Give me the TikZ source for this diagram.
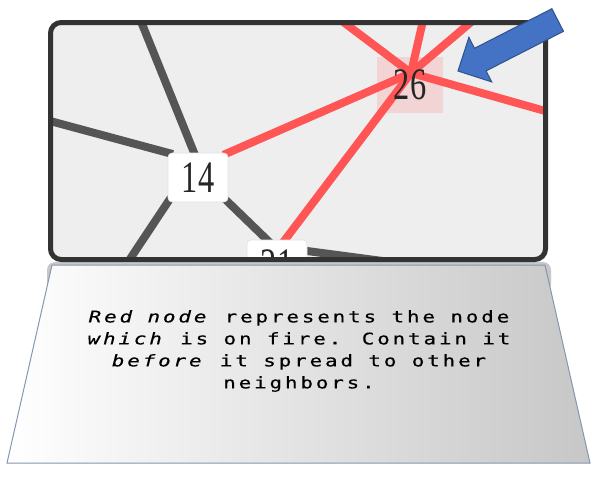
\documentclass[tikz,border=0pt]{standalone}
\usepackage{fontspec}
\usepackage{graphicx}
\usepackage{xcolor}
\usepackage{tikz}
\newfontfamily\numfont{Liberation Serif}
\newfontfamily\notefont[LetterSpace=14,FakeBold=0.4]{DejaVu Sans Mono}
\definecolor{firered}{RGB}{255,85,85}
\definecolor{edgegray}{RGB}{85,85,85}
\definecolor{framegray}{RGB}{51,51,51}
\definecolor{canvasgray}{RGB}{238,238,238}
\definecolor{firepink}{RGB}{242,212,212}
\definecolor{arrowblue}{RGB}{68,114,196}
\definecolor{arrowedge}{RGB}{47,82,143}
\definecolor{panelline}{RGB}{132,151,176}
\newcommand{\nodenum}[1]{\scalebox{0.72}[1]{\numfont\fontsize{33.75pt}{33.75pt}\selectfont #1}}
\pgfdeclarelayer{background}
\pgfdeclarelayer{edgelayer}
\pgfsetlayers{background,edgelayer,main}
\tikzset{
  nodebox/.style={draw=black!12, fill=white, rounded corners=3pt, inner sep=0pt,
    minimum width=45pt, minimum height=36.75pt, text=black!85},
  firebox/.style={inner sep=0pt, minimum width=49.5pt, minimum height=41.25pt, text=black!85},
  fireedge/.style={draw=firered, line width=6pt, shorten <=-4pt, shorten >=-4pt},
  coldedge/.style={draw=edgegray, line width=6pt, shorten <=-4pt, shorten >=-4pt}
}

\begin{document}
\begin{tikzpicture}[x=0.75pt, y=-0.75pt]
  \useasboundingbox (0,0) rectangle (604,480);

  % Nodes of the graph view
  \begin{scope}
    \clip[rounded corners=8pt] (50.5,22.5) rectangle (545.5,259.5);
    \node[firebox] (n26) at (410,85) {\nodenum{26}};
    \node[nodebox] (n14) at (198,177.5) {\nodenum{14}};
    \node[nodebox] (n21) at (277,264.5) {\nodenum{21}};
  \end{scope}
  \coordinate (hub) at (411,73);

  % Ends running out of the view
  \coordinate (f1) at (330,12);
  \coordinate (f2) at (425,12);
  \coordinate (f3) at (483,12);
  \coordinate (f4) at (570,118);
  \coordinate (c1) at (138,14);
  \coordinate (c2) at (40,118.3);
  \coordinate (c3) at (118,277);
  \coordinate (c4) at (420,266);

  % Note panel, canvas and fire box
  \begin{pgfonlayer}{background}
    \fill[black!22, rounded corners=6pt] (47,262) rectangle (551,292);
    \shadedraw[left color=white, right color=black!22, draw=panelline, line width=0.75pt]
      (52,265) -- (545,265) -- (590,463) -- (7,463) -- cycle;
    \fill[canvasgray, rounded corners=8pt] (50.5,22.5) rectangle (545.5,259.5);
    \fill[firepink] (n26.south west) rectangle (n26.north east);
  \end{pgfonlayer}

  % Edges
  \begin{pgfonlayer}{edgelayer}
    \clip[rounded corners=8pt] (50.5,22.5) rectangle (545.5,259.5);
    % gray edges
    \draw[coldedge] (c1) -- (n14.99);
    \draw[coldedge] (c2) -- (n14.north west);
    \draw[coldedge] (c3) -- (n14.south west);
    \draw[coldedge] (n14.south east) -- (n21.112);
    \draw[coldedge] (n21.24) -- (c4);
    % red edges (on fire)
    \draw[fireedge] (hub) -- (f1);
    \draw[fireedge] (hub) -- (f2);
    \draw[fireedge] (hub) -- (f3);
    \draw[fireedge] (hub) -- (f4);
    \draw[fireedge] (hub) -- (n14.north east);
    \draw[fireedge] (hub) -- (n21.72);
  \end{pgfonlayer}

  % Frame
  \draw[framegray, line width=3.75pt, rounded corners=8pt] (50.5,22.5) rectangle (545.5,259.5);

  % Pointer to the fire node
  \filldraw[fill=arrowblue, draw=arrowedge, line width=0.75pt]
    (458,71) -- (468.9,37.3) -- (474.5,48.3) -- (551.9,8.7) -- (563.5,31.3)
    -- (486.1,70.9) -- (491.7,81.9) -- cycle;

  % Note text
  \node[font=\notefont\fontsize{12pt}{16.5pt}\selectfont, align=center, xscale=1.3] (note) at (299,351)
    {\textit{Red node} represents the node\\
     \textit{which} is on fire. Contain it\\
     \textit{before} it spread to other\\
     neighbors.};
\end{tikzpicture}
\end{document}
